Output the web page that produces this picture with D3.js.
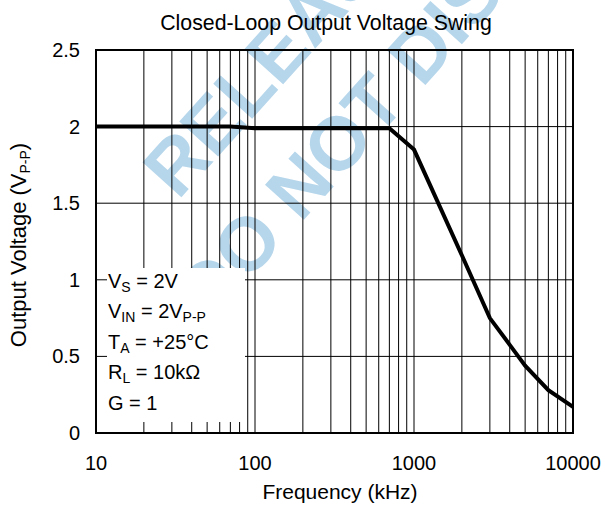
<!DOCTYPE html>
<html>
<head>
<meta charset="utf-8">
<script src="https://cdn.jsdelivr.net/npm/d3@7"></script>
<style>
  body { margin: 0; background: #fff; }
  svg { display: block; }
  text { font-family: "Liberation Sans", Arial, sans-serif; }
</style>
</head>
<body>
<div id="chart"></div>
<script>
// curve data
var freq = [10, 70, 100, 700, 1000, 2000, 3000, 5000, 7000, 10000];
var vout = [2.0, 2.0, 1.99, 1.99, 1.85, 1.16, 0.75, 0.44, 0.28, 0.17];

var xTicks = [10, 100, 1000, 10000];
var yTicks = [0, 0.5, 1, 1.5, 2, 2.5];
var conditions = [
  ["V", "S", " = 2V", ""],
  ["V", "IN", " = 2V", "P-P"],
  ["T", "A", " = +25\u00B0C", ""],
  ["R", "L", " = 10k\u03A9", ""],
  ["G", "", " = 1", ""]
];

var width = 605, height = 509;
var plotL = 96, plotR = 573, plotT = 50, plotB = 433;

var svg = d3.select("#chart").append("svg")
    .attr("width", width)
    .attr("height", height);

var xScale = d3.scaleLog().domain([10, 10000]).range([plotL, plotR]);
var yScale = d3.scaleLinear().domain([0, 2.5]).range([plotB, plotT]);

// watermark, sits under everything
var wm = svg.append("g").attr("fill", "#b6d6eb")
    .style("font-weight", "bold").style("font-size", "76px");
wm.append("text").attr("transform", "translate(178,201) rotate(-48)").text("RELEASED");
wm.append("text").attr("transform", "translate(210,324) rotate(-48)").text("DO NOT DISTRIBUTE");

// grid lines
var minor = [];
[10, 100, 1000].forEach(function (dec) {
  for (var k = 1; k < 10; k++) minor.push(dec * k);
});
minor.push(10000);

svg.append("g").selectAll("line")
    .data(minor)
    .enter().append("line")
    .attr("x1", function (d) { return xScale(d); })
    .attr("x2", function (d) { return xScale(d); })
    .attr("y1", plotT)
    .attr("y2", plotB)
    .attr("stroke", "#000")
    .attr("stroke-width", 1);

svg.append("g").selectAll("line")
    .data(yTicks)
    .enter().append("line")
    .attr("x1", plotL)
    .attr("x2", plotR)
    .attr("y1", function (d) { return yScale(d); })
    .attr("y2", function (d) { return yScale(d); })
    .attr("stroke", "#000")
    .attr("stroke-width", 1);

// conditions box
svg.append("rect")
    .attr("x", 107).attr("y", 268)
    .attr("width", 138).attr("height", 154)
    .attr("fill", "#fff");

var cond = svg.append("g").style("font-size", "20px");
conditions.forEach(function (c, i) {
  var t = cond.append("text").attr("x", 108).attr("y", 288 + i * 30.4);
  t.append("tspan").text(c[0]);
  if (c[1]) t.append("tspan").attr("dy", 4).style("font-size", "14px").text(c[1]);
  t.append("tspan").attr("dy", c[1] ? -4 : 0).text(c[2]);
  if (c[3]) t.append("tspan").attr("dy", 4).style("font-size", "14px").text(c[3]);
});

// frame
svg.append("rect")
    .attr("x", plotL).attr("y", plotT)
    .attr("width", plotR - plotL).attr("height", plotB - plotT)
    .attr("fill", "none")
    .attr("stroke", "#000")
    .attr("stroke-width", 2);

// curve
var line = d3.line()
    .x(function (d) { return xScale(d[0]); })
    .y(function (d) { return yScale(d[1]); });

svg.append("path")
    .datum(d3.zip(freq, vout))
    .attr("d", line)
    .attr("fill", "none")
    .attr("stroke", "#000")
    .attr("stroke-width", 4)
    .attr("stroke-linejoin", "miter");

// tick labels
svg.append("g").selectAll("text")
    .data(xTicks)
    .enter().append("text")
    .attr("x", function (d) { return xScale(d); })
    .attr("y", 470)
    .attr("text-anchor", "middle")
    .style("font-size", "20px")
    .text(function (d) { return d; });

svg.append("g").selectAll("text")
    .data(yTicks)
    .enter().append("text")
    .attr("x", 80)
    .attr("y", function (d) { return yScale(d); })
    .attr("dy", "0.35em")
    .attr("text-anchor", "end")
    .style("font-size", "20px")
    .text(function (d) { return d; });

// titles
svg.append("text")
    .attr("x", 326).attr("y", 30)
    .attr("text-anchor", "middle")
    .style("font-size", "21.3px")
    .text("Closed-Loop Output Voltage Swing");

svg.append("text")
    .attr("x", 340).attr("y", 499)
    .attr("text-anchor", "middle")
    .style("font-size", "21px")
    .text("Frequency (kHz)");

var yl = svg.append("text")
    .attr("transform", "translate(26,245) rotate(-90)")
    .attr("text-anchor", "middle")
    .style("font-size", "22px");
yl.append("tspan").text("Output Voltage (V");
yl.append("tspan").attr("dy", 4).style("font-size", "14px").text("P-P");
yl.append("tspan").attr("dy", -4).text(")");
</script>
</body>
</html>
